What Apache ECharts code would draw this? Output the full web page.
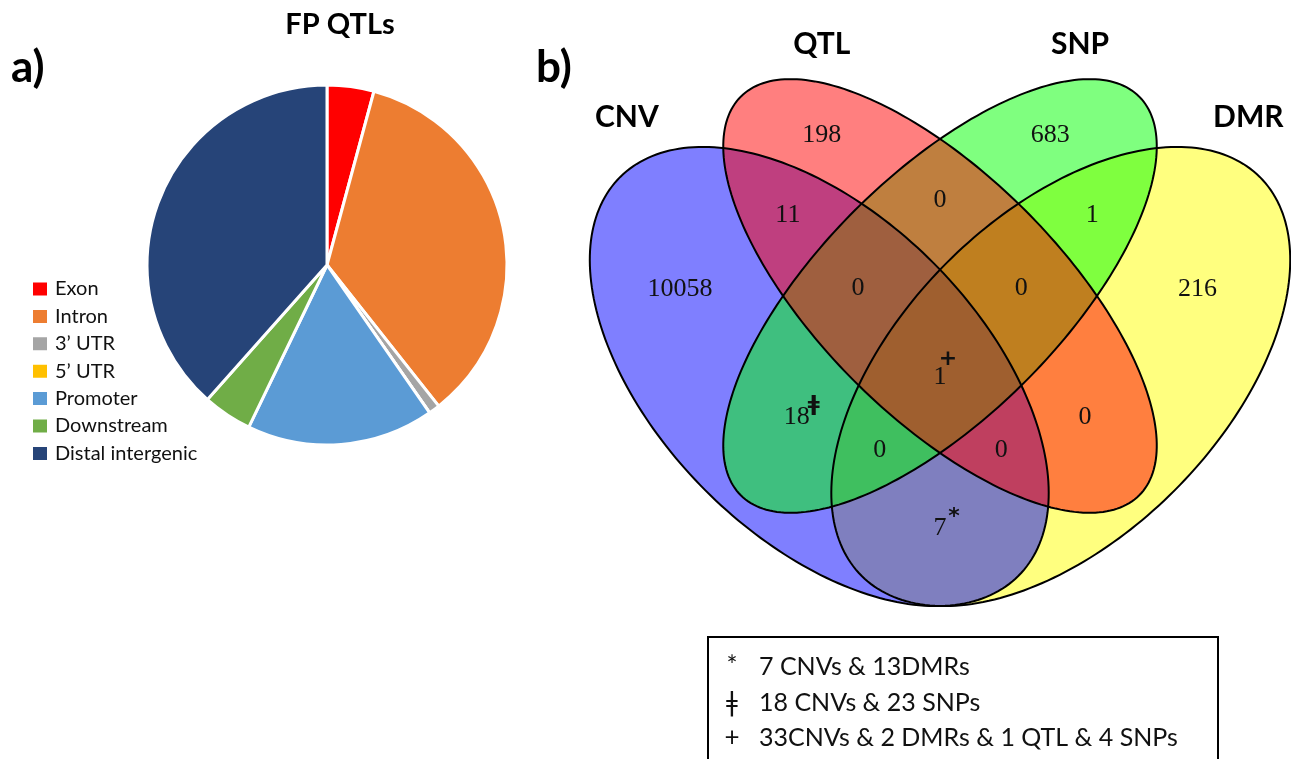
<!DOCTYPE html>
<html>
<head>
<meta charset="utf-8">
<script src="https://cdn.jsdelivr.net/npm/echarts@6/dist/echarts.min.js"></script>
<style>
  html, body { margin: 0; padding: 0; background: #ffffff; }
  #main { width: 1291px; height: 759px; }
</style>
</head>
<body>
<div id="main"></div>
<script>
// ---- Panel a: genomic annotation of FP QTLs (share of QTLs, %) ----
const pieCategories = ['Exon', 'Intron', '3’ UTR', '5’ UTR', 'Promoter', 'Downstream', 'Distal intergenic'];
const pieValues = [4.2, 35.1, 1.0, 0, 16.8, 4.4, 38.4];
const pieColors = ['#ff0000', '#ed7d31', '#a5a5a5', '#ffc000', '#5b9bd5', '#70ad47', '#264478'];

// ---- Panel b: overlaps of CNV, QTL, SNP and DMR sets ----
const setNames = ['CNV', 'QTL', 'SNP', 'DMR'];
const regionSets = [
  ['CNV'], ['QTL'], ['SNP'], ['DMR'],
  ['CNV', 'QTL'], ['QTL', 'SNP'], ['SNP', 'DMR'], ['CNV', 'SNP'], ['QTL', 'DMR'], ['CNV', 'DMR'],
  ['CNV', 'QTL', 'SNP'], ['QTL', 'SNP', 'DMR'], ['CNV', 'SNP', 'DMR'], ['CNV', 'QTL', 'DMR'],
  ['CNV', 'QTL', 'SNP', 'DMR']
];
const regionCounts = [10058, 198, 683, 216, 11, 0, 1, 18, 0, 7, 0, 0, 0, 0, 1];
const regionMarks = ['', '', '', '', '', '', '', 'ǂ', '', '*', '', '', '', '', '+'];
const footnoteMarks = ['*', 'ǂ', '+'];
const footnoteTexts = ['7 CNVs & 13DMRs', '18 CNVs & 23 SNPs', '33CNVs & 2 DMRs & 1 QTL & 4 SNPs'];

// ---- Venn layout (unit square, classic four-ellipse arrangement) ----
const ellipseLayout = {
  CNV: { cx: 0.35, cy: 0.47, a: 0.35, b: 0.20, rot: 135, fill: 'rgba(0,0,255,0.5)' },
  QTL: { cx: 0.50, cy: 0.57, a: 0.35, b: 0.15, rot: 135, fill: 'rgba(255,0,0,0.5)' },
  SNP: { cx: 0.50, cy: 0.57, a: 0.35, b: 0.15, rot: 45,  fill: 'rgba(0,255,0,0.5)' },
  DMR: { cx: 0.65, cy: 0.47, a: 0.35, b: 0.20, rot: 45,  fill: 'rgba(255,255,0,0.5)' }
};
const fillOrder = ['DMR', 'CNV', 'SNP', 'QTL'];
const setLabelPos = { CNV: [0.111, 0.792], QTL: [0.353, 0.882], SNP: [0.674, 0.882], DMR: [0.883, 0.792] };
const regionLabelPos = [
  [0.177, 0.578], [0.353, 0.770], [0.637, 0.770], [0.820, 0.578],
  [0.311, 0.670], [0.500, 0.689], [0.689, 0.670], [0.322, 0.420], [0.680, 0.420], [0.500, 0.282],
  [0.398, 0.580], [0.601, 0.580], [0.425, 0.379], [0.576, 0.379],
  [0.500, 0.469]
];
// pixel offset of a footnote mark from its count
const markOffset = { 'ǂ': [17, -11], '*': [14, -11], '+': [8, -18] };

function ellipsePoints(e, api) {
  const th = e.rot * Math.PI / 180, c = Math.cos(th), s = Math.sin(th);
  const pts = [];
  for (let i = 0; i < 240; i++) {
    const t = i / 240 * Math.PI * 2;
    const x = e.a * Math.cos(t), y = e.b * Math.sin(t);
    pts.push(api.coord([e.cx + x * c - y * s, e.cy + x * s + y * c]));
  }
  return pts;
}

const centered = { textAlign: 'center', textVerticalAlign: 'middle', align: 'center', verticalAlign: 'middle' };

const chart = echarts.init(document.getElementById('main'), null, { renderer: 'canvas' });

const option = {
  animation: false,
  backgroundColor: '#ffffff',
  // unit square of the Venn: 805 px per unit on both axes
  grid: { left: 537.5, top: 0, width: 752.7, height: 755, outerBoundsMode: 'none', containLabel: false },
  xAxis: { type: 'value', min: 0, max: 0.935, show: false },
  yAxis: { type: 'value', min: 0, max: 0.9375, show: false },
  legend: {
    data: pieCategories,
    orient: 'vertical',
    left: 26,
    top: 274,
    icon: 'rect',
    itemWidth: 16,
    itemHeight: 15,
    itemGap: 7.4,
    selectedMode: false,
    textStyle: { fontFamily: 'Lato', fontSize: 20, color: '#111', lineHeight: 20, padding: [0, 0, 0, 2] }
  },
  graphic: [
    { type: 'text', left: 11, top: 46, style: { text: 'a)', font: 'bold 44px Lato', fill: '#000' } },
    { type: 'text', left: 536, top: 46, style: { text: 'b)', font: 'bold 44px Lato', fill: '#000' } },
    { type: 'text', x: 340, y: 25, style: Object.assign({ text: 'FP QTLs', font: 'bold 29px Lato', fill: '#000' }, centered) },
    { type: 'rect', shape: { x: 708, y: 637, width: 510, height: 150 }, style: { fill: 'none', stroke: '#000', lineWidth: 2 } }
  ].concat(footnoteTexts.flatMap((t, i) => [
    { type: 'text', x: 732, y: 667 + i * 35.5, style: Object.assign({ text: footnoteMarks[i], font: '26px Lato', fill: '#111' }, centered) },
    { type: 'text', x: 759, y: 667 + i * 35.5, style: { text: t, font: '25px Lato', fill: '#111', textAlign: 'left', textVerticalAlign: 'middle', align: 'left', verticalAlign: 'middle' } }
  ])),
  series: [
    {
      type: 'pie',
      name: 'FP QTLs',
      center: [327, 265],
      radius: 180,
      startAngle: 90,
      clockwise: true,
      label: { show: false },
      labelLine: { show: false },
      emphasis: { disabled: true },
      itemStyle: { borderColor: '#ffffff', borderWidth: 3 },
      data: pieCategories.map((n, i) => ({ name: n, value: pieValues[i], itemStyle: { color: pieColors[i] } }))
    },
    {
      // translucent set fills
      type: 'custom',
      coordinateSystem: 'cartesian2d',
      silent: true,
      clip: false,
      data: fillOrder.map(n => [ellipseLayout[n].cx, ellipseLayout[n].cy]),
      renderItem: (params, api) => {
        const e = ellipseLayout[fillOrder[params.dataIndex]];
        return { type: 'polygon', shape: { points: ellipsePoints(e, api) }, style: { fill: e.fill, stroke: null } };
      }
    },
    {
      // set outlines
      type: 'custom',
      coordinateSystem: 'cartesian2d',
      silent: true,
      clip: false,
      data: setNames.map(n => [ellipseLayout[n].cx, ellipseLayout[n].cy]),
      renderItem: (params, api) => {
        const e = ellipseLayout[setNames[params.dataIndex]];
        return { type: 'polygon', shape: { points: ellipsePoints(e, api) }, style: { fill: null, stroke: '#000', lineWidth: 2 } };
      }
    },
    {
      // region counts with footnote marks
      type: 'custom',
      coordinateSystem: 'cartesian2d',
      silent: true,
      clip: false,
      data: regionLabelPos,
      renderItem: (params, api) => {
        const i = params.dataIndex;
        const p = api.coord(regionLabelPos[i]);
        const children = [{
          type: 'text', x: p[0], y: p[1],
          style: Object.assign({ text: String(regionCounts[i]), font: '26px "Liberation Serif"', fill: '#111' }, centered)
        }];
        const m = regionMarks[i];
        if (m) {
          const off = markOffset[m];
          children.push({
            type: 'text', x: p[0] + off[0], y: p[1] + off[1],
            style: Object.assign({ text: m, font: 'bold 22px "DejaVu Sans"', fill: '#111' }, centered)
          });
        }
        return { type: 'group', children };
      }
    },
    {
      // set names
      type: 'custom',
      coordinateSystem: 'cartesian2d',
      silent: true,
      clip: false,
      data: setNames.map(n => setLabelPos[n]),
      renderItem: (params, api) => {
        const p = api.coord(setLabelPos[setNames[params.dataIndex]]);
        return {
          type: 'text', x: p[0], y: p[1],
          style: Object.assign({ text: setNames[params.dataIndex], font: 'bold 30px Lato', fill: '#000' }, centered)
        };
      }
    }
  ]
};

chart.setOption(option);
</script>
</body>
</html>
